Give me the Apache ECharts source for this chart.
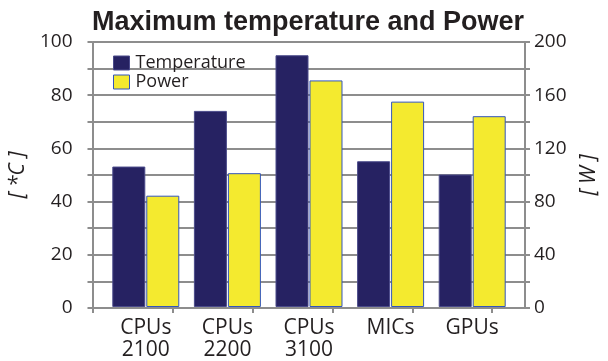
<!DOCTYPE html>
<html>
<head>
<meta charset="utf-8">
<script src="https://cdn.jsdelivr.net/npm/echarts@6/dist/echarts.min.js"></script>
<style>
  html, body { margin: 0; padding: 0; background: #fff; }
  #vis { width: 608px; height: 361px; }
</style>
</head>
<body>
<div id="vis"></div>
<script>
// values
const categories = ['CPUs\n2100', 'CPUs\n2200', 'CPUs\n3100', 'MICs', 'GPUs'];
const temperature = [53, 74, 95, 55, 50];   // [ *C ], left axis
const power = [84, 101, 171, 155, 144];     // [ W ], right axis

const gridColor = '#8d8d8d';
const textColor = '#231f20';
const labelFont = 'Open Sans';

const chart = echarts.init(document.getElementById('vis'), null, { renderer: 'canvas' });

const hiddenAxis = {
  axisLine: { show: false },
  axisTick: { show: false },
  axisLabel: { show: false },
  splitLine: { show: false }
};

chart.setOption({
  animation: false,
  backgroundColor: '#fff',
  title: {
    text: 'Maximum temperature and Power',
    left: 87,
    top: 4,
    textStyle: {
      fontFamily: 'Liberation Sans',
      fontWeight: 'bold',
      fontSize: 27,
      color: textColor
    }
  },
  legend: {
    orient: 'vertical',
    left: 108,
    top: 49,
    itemWidth: 16,
    itemHeight: 14,
    itemGap: 1,
    icon: 'rect',
    textStyle: { fontFamily: labelFont, fontSize: 18, lineHeight: 14, color: textColor, padding: [0, 0, 0, 1] },
    data: [
      { name: 'Temperature', itemStyle: { color: '#262262', borderColor: '#4a4a8a', borderWidth: 1 } },
      { name: 'Power', itemStyle: { color: '#f4ea2f', borderColor: '#3355bb', borderWidth: 1 } }
    ]
  },
  grid: [
    // frame: axes and grid lines
    { left: 87, right: 77, top: 42, bottom: 53 },
    // bars
    { left: 105, right: 95, top: 42, bottom: 53 }
  ],
  xAxis: [
    {
      type: 'value',
      gridIndex: 0,
      min: 0,
      max: 5.41,
      interval: 1,
      axisLine: { show: true, lineStyle: { color: gridColor, width: 2 } },
      axisTick: { show: true, length: 5, lineStyle: { color: gridColor, width: 2 }, customValues: [0, 1, 2, 3, 4, 5] },
      axisLabel: { show: false },
      splitLine: { show: false }
    },
    {
      type: 'category',
      gridIndex: 1,
      data: categories,
      axisLine: { show: false },
      axisTick: { show: false },
      splitLine: { show: false },
      axisLabel: {
        fontFamily: labelFont,
        fontSize: 21,
        lineHeight: 22,
        color: textColor,
        margin: 10,
        interval: 0
      }
    }
  ],
  yAxis: [
    {
      type: 'value',
      gridIndex: 0,
      min: 0,
      max: 100,
      interval: 10,
      name: '[ *C ]',
      nameLocation: 'middle',
      nameGap: 55,
      nameRotate: 90,
      nameTextStyle: { fontFamily: labelFont, fontStyle: 'italic', fontSize: 21, color: textColor },
      axisLine: { show: true, lineStyle: { color: gridColor, width: 2 } },
      axisTick: { show: true, length: 5, lineStyle: { color: gridColor, width: 2 } },
      axisLabel: {
        fontFamily: labelFont,
        fontSize: 19,
        color: textColor,
        margin: 20,
        formatter: v => (v % 20 === 0 ? String(v) : '')
      },
      splitLine: { show: true, lineStyle: { color: gridColor, width: 2 } }
    },
    {
      type: 'value',
      gridIndex: 0,
      position: 'right',
      min: 0,
      max: 200,
      interval: 20,
      name: '[ W ]',
      nameLocation: 'middle',
      nameGap: 54,
      nameRotate: 90,
      nameTextStyle: { fontFamily: labelFont, fontStyle: 'italic', fontSize: 21, color: textColor },
      axisLine: { show: true, lineStyle: { color: gridColor, width: 2 } },
      axisTick: { show: true, length: 5, lineStyle: { color: gridColor, width: 2 } },
      axisLabel: {
        fontFamily: labelFont,
        fontSize: 19,
        color: textColor,
        margin: 9,
        formatter: v => (v % 40 === 0 ? String(v) : '')
      },
      splitLine: { show: false }
    },
    Object.assign({ type: 'value', gridIndex: 1, min: 0, max: 100 }, hiddenAxis),
    Object.assign({ type: 'value', gridIndex: 1, min: 0, max: 200, position: 'right' }, hiddenAxis)
  ],
  series: [
    {
      name: 'Temperature',
      type: 'bar',
      xAxisIndex: 1,
      yAxisIndex: 2,
      data: temperature,
      barWidth: 33,
      barGap: '3%',
      itemStyle: { color: '#262262', borderColor: '#4a4a8a', borderWidth: 1 }
    },
    {
      name: 'Power',
      type: 'bar',
      xAxisIndex: 1,
      yAxisIndex: 3,
      data: power,
      barWidth: 33,
      barGap: '3%',
      itemStyle: { color: '#f4ea2f', borderColor: '#3355bb', borderWidth: 1 }
    }
  ]
});
</script>
</body>
</html>
